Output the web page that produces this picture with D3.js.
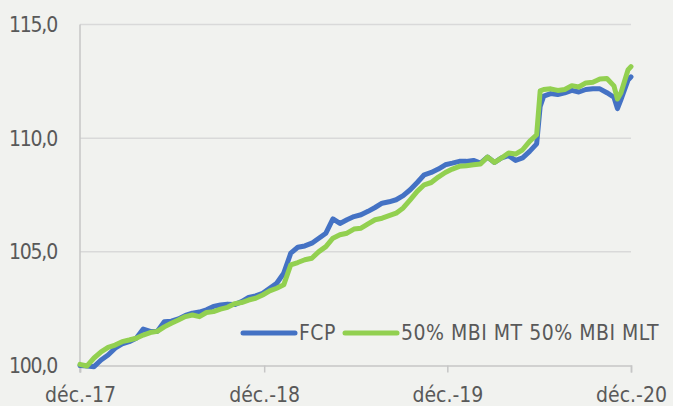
<!DOCTYPE html>
<html>
<head>
<meta charset="utf-8">
<script src="https://cdn.jsdelivr.net/npm/d3@7"></script>
<style>
  body { margin: 0; background: #f1f2ef; }
  svg { display: block; }
  text { font-family: "Liberation Sans Narrow", "Arial Narrow", "DejaVu Sans Condensed", sans-serif; fill: #595959; }
</style>
</head>
<body>
<svg id="svg" width="673" height="406"></svg>
<script>
var dates = [
  "2017-12-29","2018-01-12","2018-01-26","2018-02-09","2018-02-23","2018-03-09","2018-03-23",
  "2018-04-06","2018-04-20","2018-05-04","2018-05-18","2018-06-01","2018-06-15","2018-06-29",
  "2018-07-13","2018-07-27","2018-08-10","2018-08-24","2018-09-07","2018-09-21","2018-10-05",
  "2018-10-19","2018-11-02","2018-11-16","2018-11-30","2018-12-14","2018-12-28","2019-01-11",
  "2019-01-25","2019-02-08","2019-02-22","2019-03-08","2019-03-22","2019-04-05","2019-04-19",
  "2019-05-03","2019-05-17","2019-05-31","2019-06-14","2019-06-28","2019-07-12","2019-07-26",
  "2019-08-09","2019-08-23","2019-09-06","2019-09-20","2019-10-04","2019-10-18","2019-11-01",
  "2019-11-15","2019-11-29","2019-12-13","2019-12-27","2020-01-10","2020-01-24","2020-02-07",
  "2020-02-21","2020-03-06","2020-03-20","2020-04-03","2020-04-17","2020-05-01","2020-05-15",
  "2020-05-29","2020-06-12","2020-06-26","2020-07-03","2020-07-10","2020-07-24","2020-08-07",
  "2020-08-21","2020-09-04","2020-09-18","2020-10-02","2020-10-16","2020-10-30","2020-11-13",
  "2020-11-27","2020-12-04","2020-12-11","2020-12-25","2020-12-31"
];

var fcp = [
  100.00, 99.98, 99.95, 100.24, 100.46, 100.76, 100.95,
  101.05, 101.20, 101.60, 101.50, 101.50, 101.93, 101.95,
  102.05, 102.20, 102.30, 102.35, 102.45, 102.60, 102.66,
  102.70, 102.68, 102.81, 102.99, 103.06, 103.18, 103.40,
  103.62, 104.06, 104.94, 105.20, 105.26, 105.38, 105.60,
  105.82, 106.45, 106.25, 106.41, 106.55, 106.63, 106.78,
  106.95, 107.14, 107.20, 107.29, 107.47, 107.73, 108.05,
  108.39, 108.49, 108.64, 108.83, 108.90, 108.98, 108.98,
  109.02, 108.90, 109.17, 108.93, 109.13, 109.23, 109.02,
  109.13, 109.42, 109.75, 111.40, 111.85, 111.96, 111.92,
  111.99, 112.10, 112.03, 112.14, 112.17, 112.17, 112.00,
  111.80, 111.30, 111.70, 112.55, 112.70
];

var bench = [
  100.05, 99.98, 100.33, 100.60, 100.80, 100.90, 101.05,
  101.12, 101.20, 101.34, 101.45, 101.50, 101.70, 101.86,
  102.00, 102.15, 102.22, 102.15, 102.33, 102.37, 102.48,
  102.56, 102.72, 102.77, 102.88, 102.96, 103.10, 103.28,
  103.40, 103.55, 104.43, 104.53, 104.65, 104.72, 105.01,
  105.23, 105.60, 105.75, 105.82, 106.00, 106.04, 106.23,
  106.41, 106.48, 106.59, 106.70, 106.93, 107.29, 107.66,
  107.95, 108.05, 108.29, 108.49, 108.64, 108.76, 108.79,
  108.83, 108.86, 109.17, 108.93, 109.13, 109.35, 109.30,
  109.49, 109.86, 110.15, 112.08, 112.14, 112.17, 112.10,
  112.14, 112.31, 112.25, 112.43, 112.46, 112.60, 112.62,
  112.30, 111.72, 112.00, 113.00, 113.15
];

var yTicks = [100, 105, 110, 115];
var xTickDates = ["2017-12-29", "2018-12-31", "2019-12-31", "2020-12-31"];
var xTickLabels = ["déc.-17", "déc.-18", "déc.-19", "déc.-20"];
var seriesNames = ["FCP", "50% MBI MT 50% MBI MLT"];
var seriesColors = ["#4472c4", "#92d050"];

var parse = d3.timeParse("%Y-%m-%d");
var svg = d3.select("#svg");

var x = d3.scaleTime()
  .domain([parse("2017-12-29"), parse("2020-12-31")])
  .range([80, 631]);
var y = d3.scaleLinear()
  .domain([100, 115])
  .range([365.5, 24.5]);

// gridlines
svg.selectAll("line.grid").data(yTicks.slice(1)).enter()
  .append("line")
  .attr("class", "grid")
  .attr("x1", 80).attr("x2", 631)
  .attr("y1", function(d) { return y(d); })
  .attr("y2", function(d) { return y(d); })
  .attr("stroke", "#d9d9d9")
  .attr("stroke-width", 1.5);

// y labels
svg.selectAll("text.ylab").data(yTicks).enter()
  .append("text")
  .attr("class", "ylab")
  .attr("x", 57)
  .attr("y", function(d) { return y(d); })
  .attr("dy", "0.35em")
  .attr("text-anchor", "end")
  .style("font-size", "21px")
  .style("letter-spacing", "-1.2px")
  .text(function(d) { return d3.format(".1f")(d).replace(".", ","); });

// axes
var xAxis = d3.axisBottom(x)
  .tickValues(xTickDates.map(parse))
  .tickSize(7)
  .tickFormat(function(d, i) { return xTickLabels[i]; });
var gx = svg.append("g")
  .attr("transform", "translate(0," + y(100) + ")")
  .call(xAxis);
gx.select(".domain").attr("stroke", "#c6c6c6").attr("stroke-width", 1.5);
gx.selectAll(".tick line").attr("stroke", "#c6c6c6").attr("stroke-width", 1.5);
gx.selectAll(".tick text")
  .attr("y", 0).attr("dy", 0)
  .attr("transform", "translate(0,36)")
  .style("font-size", "21px")
  .attr("fill", "#595959");

svg.append("line")
  .attr("x1", 80).attr("x2", 80)
  .attr("y1", y(115)).attr("y2", y(100) + 7)
  .attr("stroke", "#c6c6c6")
  .attr("stroke-width", 1.5);

// lines
var series = [fcp, bench];
var line = d3.line()
  .x(function(d, i) { return x(parse(dates[i])); })
  .y(function(d) { return y(d); });

svg.selectAll("path.series").data(series).enter()
  .append("path")
  .attr("class", "series")
  .attr("d", line)
  .attr("fill", "none")
  .attr("stroke", function(d, i) { return seriesColors[i]; })
  .attr("stroke-width", 5)
  .attr("stroke-linejoin", "round")
  .attr("stroke-linecap", "round");

// legend
var legX = [243, 345];
var legend = svg.selectAll("g.leg").data(seriesNames).enter()
  .append("g")
  .attr("class", "leg")
  .attr("transform", function(d, i) { return "translate(" + legX[i] + ",333)"; });
legend.append("line")
  .attr("x1", 0).attr("x2", 52)
  .attr("y1", 0).attr("y2", 0)
  .attr("stroke", function(d, i) { return seriesColors[i]; })
  .attr("stroke-width", 5)
  .attr("stroke-linecap", "round");
legend.append("text")
  .attr("x", 56)
  .attr("y", 0)
  .attr("dy", "0.35em")
  .style("font-size", "21px")
  .style("letter-spacing", "0.5px")
  .text(function(d) { return d; });
</script>
</body>
</html>
